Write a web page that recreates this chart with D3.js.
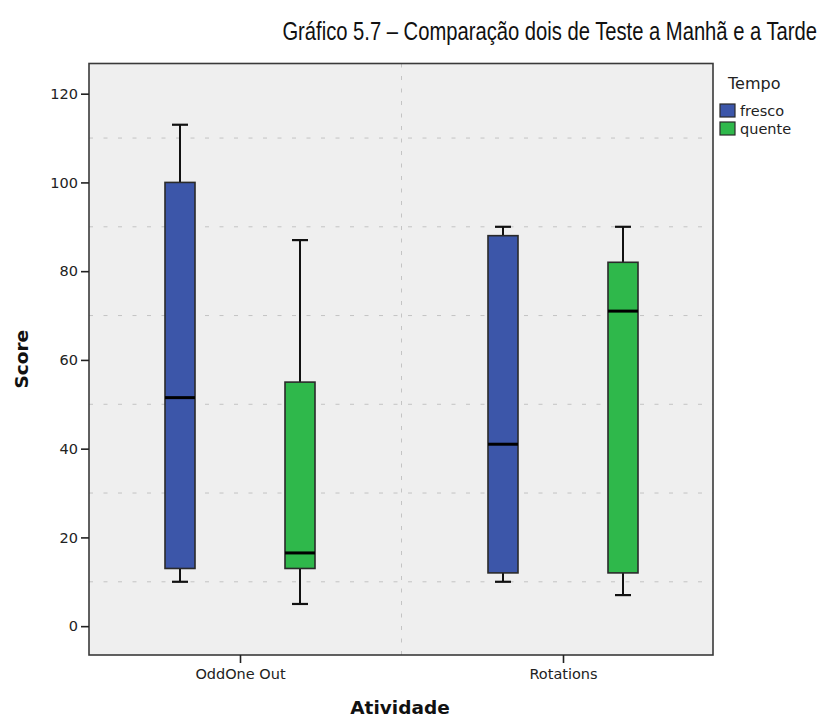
<!DOCTYPE html>
<html>
<head>
<meta charset="utf-8">
<script src="https://cdn.jsdelivr.net/npm/d3@7"></script>
<style>
  body { margin: 0; background: #fff; }
  svg { display: block; }
</style>
</head>
<body>
<svg id="chart" width="823" height="717"></svg>
<script>
// ---- data ----
const categories = ["OddOne Out", "Rotations"];
const series = ["fresco", "quente"];
const seriesColors = ["#3c56a9", "#2fb84b"];
// [min, q1, median, q3, max] per category, per series
const frescoStats = [[10, 13, 51.5, 100, 113], [10, 12, 41, 88, 90]];
const quenteStats = [[5, 13, 16.5, 55, 87], [7, 12, 71, 82, 90]];
const yTicks = [0, 20, 40, 60, 80, 100, 120];
const yGrid = [10, 30, 50, 70, 90, 110];
const titleText = "Gráfico 5.7 – Comparação dois de Teste a Manhã e a Tarde";
const xTitle = "Atividade";
const yTitle = "Score";
const legendTitle = "Tempo";

const statsBySeries = [frescoStats, quenteStats];

// ---- layout ----
const svg = d3.select("#chart");
const L = 89, R = 713, T = 63.5, B = 655;

const y = d3.scaleLinear().domain([-6.5, 126.8]).range([B, T]);
const x = d3.scalePoint().domain(categories).range([L + 151, R - 150]);
const off = d3.scalePoint().domain(series).range([-60, 60]);
const color = d3.scaleOrdinal().domain(series).range(seriesColors);

// title (condensed look via horizontal scale)
const title = svg.append("text")
  .attr("text-anchor", "end")
  .attr("font-family", "'Liberation Sans', Arial, sans-serif")
  .attr("font-size", 26)
  .attr("fill", "#111")
  .text(titleText);
const tw = title.node().getComputedTextLength();
const sx = Math.min(1, 535 / tw);
title.attr("transform", `translate(817,40) scale(${sx},1)`);

// plot background
svg.append("rect")
  .attr("x", L).attr("y", T).attr("width", R - L).attr("height", B - T)
  .attr("fill", "#efefef");

// horizontal grid
svg.append("g").selectAll("line").data(yGrid).join("line")
  .attr("x1", L).attr("x2", R)
  .attr("y1", d => y(d)).attr("y2", d => y(d))
  .attr("stroke", "#c4c4c4").attr("stroke-width", 1)
  .attr("stroke-dasharray", "4,10.5");

// vertical separator
const sepX = (x(categories[0]) + x(categories[1])) / 2;
svg.append("line")
  .attr("x1", sepX).attr("x2", sepX).attr("y1", T).attr("y2", B)
  .attr("stroke", "#c4c4c4").attr("stroke-width", 1)
  .attr("stroke-dasharray", "4,8.5");

// frame
svg.append("rect")
  .attr("x", L).attr("y", T).attr("width", R - L).attr("height", B - T)
  .attr("fill", "none").attr("stroke", "#3a3a3a").attr("stroke-width", 1.6);

// y axis
const yAxis = d3.axisLeft(y).tickValues(yTicks).tickSize(8).tickPadding(3);
const gy = svg.append("g").attr("transform", `translate(${L},0)`).call(yAxis);
gy.select(".domain").remove();
gy.selectAll(".tick line").attr("stroke", "#222").attr("stroke-width", 1.6);
gy.selectAll(".tick text")
  .attr("font-family", "'DejaVu Sans', sans-serif")
  .attr("font-size", 14.5).attr("fill", "#222");

// x axis
const xAxis = d3.axisBottom(x).tickSize(8).tickPadding(6);
const gx = svg.append("g").attr("transform", `translate(0,${B})`).call(xAxis);
gx.select(".domain").remove();
gx.selectAll(".tick line").attr("stroke", "#222").attr("stroke-width", 1.6);
gx.selectAll(".tick text")
  .attr("font-family", "'DejaVu Sans', sans-serif")
  .attr("font-size", 14.5).attr("fill", "#222");

// axis titles
svg.append("text")
  .attr("x", (L + R) / 2 - 1).attr("y", 714)
  .attr("text-anchor", "middle")
  .attr("font-family", "'DejaVu Sans', sans-serif")
  .attr("font-weight", "bold").attr("font-size", 18.5).attr("fill", "#111")
  .text(xTitle);
svg.append("text")
  .attr("transform", `translate(28,${(T + B) / 2}) rotate(-90)`)
  .attr("text-anchor", "middle")
  .attr("font-family", "'DejaVu Sans', sans-serif")
  .attr("font-weight", "bold").attr("font-size", 18.5).attr("fill", "#111")
  .text(yTitle);

// boxes
const boxW = 30, capW = 16;
const boxes = [];
series.forEach((s, si) => {
  categories.forEach((c, ci) => {
    const [mn, q1, md, q3, mx] = statsBySeries[si][ci];
    boxes.push({ s, c, mn, q1, md, q3, mx });
  });
});

const gb = svg.append("g").selectAll("g").data(boxes).join("g")
  .attr("transform", d => `translate(${x(d.c) + off(d.s)},0)`);

// whiskers
gb.append("line")
  .attr("x1", 0).attr("x2", 0)
  .attr("y1", d => y(d.q3)).attr("y2", d => y(d.mx))
  .attr("stroke", "#111").attr("stroke-width", 2);
gb.append("line")
  .attr("x1", 0).attr("x2", 0)
  .attr("y1", d => y(d.q1)).attr("y2", d => y(d.mn))
  .attr("stroke", "#111").attr("stroke-width", 2);
gb.append("line")
  .attr("x1", -capW / 2).attr("x2", capW / 2)
  .attr("y1", d => y(d.mx)).attr("y2", d => y(d.mx))
  .attr("stroke", "#111").attr("stroke-width", 2.2);
gb.append("line")
  .attr("x1", -capW / 2).attr("x2", capW / 2)
  .attr("y1", d => y(d.mn)).attr("y2", d => y(d.mn))
  .attr("stroke", "#111").attr("stroke-width", 2.2);

// box
gb.append("rect")
  .attr("x", -boxW / 2).attr("width", boxW)
  .attr("y", d => y(d.q3)).attr("height", d => y(d.q1) - y(d.q3))
  .attr("fill", d => color(d.s))
  .attr("stroke", "#2a2a2a").attr("stroke-width", 1.6);

// median
gb.append("line")
  .attr("x1", -boxW / 2).attr("x2", boxW / 2)
  .attr("y1", d => y(d.md)).attr("y2", d => y(d.md))
  .attr("stroke", "#000").attr("stroke-width", 3);

// legend
const lg = svg.append("g");
lg.append("text")
  .attr("x", 728).attr("y", 89)
  .attr("font-family", "'DejaVu Sans', sans-serif")
  .attr("font-size", 16).attr("fill", "#222")
  .text(legendTitle);
const li = lg.selectAll("g.item").data(series).join("g")
  .attr("class", "item")
  .attr("transform", (d, i) => `translate(720,${104 + i * 18})`);
li.append("rect")
  .attr("x", 0).attr("y", 0).attr("width", 15).attr("height", 13)
  .attr("fill", d => color(d))
  .attr("stroke", "#2a2a2a").attr("stroke-width", 1.2);
li.append("text")
  .attr("x", 20).attr("y", 12)
  .attr("font-family", "'DejaVu Sans', sans-serif")
  .attr("font-size", 14.5).attr("fill", "#222")
  .text(d => d);
</script>
</body>
</html>
